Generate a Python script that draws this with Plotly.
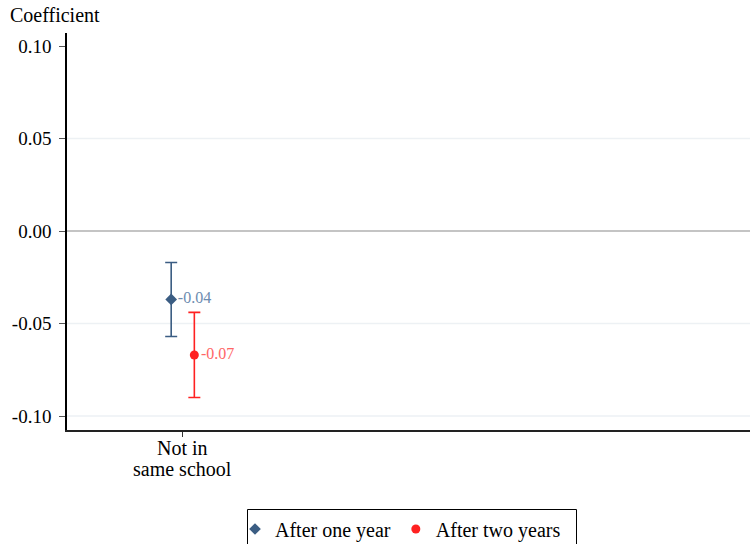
import plotly.graph_objects as go

# Estimates with 95% confidence bounds
categories = ["Not in<br>same school"]
series_names = ["After one year", "After two years"]
estimates = [-0.037, -0.067]
ci_low = [-0.057, -0.090]
ci_high = [-0.017, -0.044]
y_ticks = [0.10, 0.05, 0.00, -0.05, -0.10]
y_tick_labels = ["0.10", "0.05", "0.00", "-0.05", "-0.10"]
grid_levels = [0.05, -0.05, -0.10]

cat_positions = [1.0]
offsets = [-0.1, 0.1]
marker_colors = ["#3b5d83", "#ff2121"]
label_colors = ["#6d8cb0", "#ff6666"]
symbols = ["diamond", "circle"]
serif = "Liberation Serif, Times New Roman, serif"

W, H = 750, 544
M_L, M_R, M_T, M_B = 67, 0, 33, 114
plot_w = W - M_L - M_R
plot_h = H - M_T - M_B


def px_x(px):
    return (px - M_L) / plot_w


def px_y(py):
    return (H - M_B - py) / plot_h


fig = go.Figure()
for i, name in enumerate(series_names):
    fig.add_trace(go.Scatter(
        x=[cat_positions[0] + offsets[i]],
        y=[estimates[i]],
        mode="markers+text",
        name=name,
        marker=dict(symbol=symbols[i], size=9, color=marker_colors[i]),
        error_y=dict(
            type="data", symmetric=False,
            array=[ci_high[i] - estimates[i]],
            arrayminus=[estimates[i] - ci_low[i]],
            color=marker_colors[i], thickness=1.6, width=6,
        ),
        texttemplate="%{y:.2f}",
        textposition="middle right",
        textfont=dict(family=serif, size=16, color=label_colors[i]),
        cliponaxis=False,
    ))

# light grid lines and a stronger zero reference line
shapes = [
    dict(type="line", xref="paper", yref="y", x0=0, x1=1, y0=g, y1=g,
         line=dict(color="#edf1f4", width=1.5), layer="below")
    for g in grid_levels
]
shapes.append(dict(type="line", xref="paper", yref="y", x0=0, x1=1, y0=0, y1=0,
                   line=dict(color="#c4c4c4", width=2), layer="below"))
# legend frame
shapes.append(dict(type="rect", xref="paper", yref="paper",
                   x0=px_x(247.5), x1=px_x(576.5), y0=px_y(509.5), y1=px_y(560),
                   line=dict(color="black", width=1), fillcolor="rgba(0,0,0,0)"))

annotations = [dict(
    text="Coefficient", xref="paper", yref="paper",
    x=0, y=1.0, xanchor="left", yanchor="middle", xshift=-59, yshift=18,
    showarrow=False, font=dict(family=serif, size=20, color="black"),
)]
# category labels, one annotation per line for tight line spacing
for pos, cat in zip(cat_positions, categories):
    for k, line in enumerate(cat.split("<br>")):
        annotations.append(dict(
            text=line, xref="x", yref="paper", x=pos, y=px_y(448 + 21 * k),
            xanchor="center", yanchor="middle", showarrow=False,
            font=dict(family=serif, size=20, color="black"),
        ))

fig.update_layout(
    width=W, height=H,
    margin=dict(l=M_L, r=M_R, t=M_T, b=M_B, autoexpand=False),
    paper_bgcolor="white", plot_bgcolor="white",
    font=dict(family=serif, size=19, color="black"),
    shapes=shapes,
    annotations=annotations,
    xaxis=dict(
        range=[0, 5.9], tickvals=cat_positions, ticktext=[""] * len(cat_positions),
        ticks="outside", ticklen=5, tickcolor="#333",
        showgrid=False, zeroline=False,
        showline=True, linecolor="#222", linewidth=1.5,
    ),
    yaxis=dict(
        range=[-0.10757, 0.10703], tickvals=y_ticks, ticktext=y_tick_labels,
        ticks="outside", ticklen=6, tickcolor="#555",
        ticklabelstandoff=4,
        showgrid=False, zeroline=False,
        showline=True, linecolor="black", linewidth=1.5,
        tickfont=dict(family=serif, size=19, color="black"),
    ),
    legend=dict(
        orientation="h", x=px_x(235), y=px_y(529), xanchor="left", yanchor="middle",
        borderwidth=0, bgcolor="rgba(0,0,0,0)",
        itemwidth=30,
        font=dict(family=serif, size=20, color="black"),
    ),
    showlegend=True,
)

fig.write_html("out.html")
